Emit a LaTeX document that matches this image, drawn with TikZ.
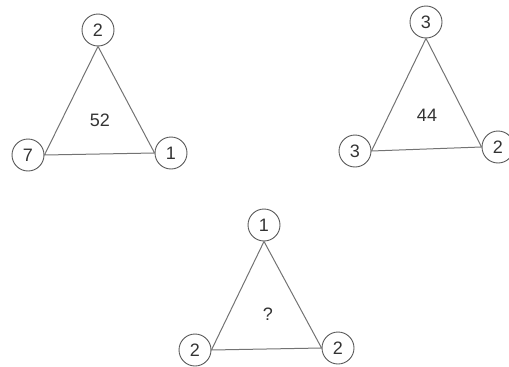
\documentclass[tikz,border=0pt]{standalone}
\usepackage{fontspec}
\setmainfont{Liberation Sans}
\begin{document}
\begin{tikzpicture}[x=1pt,y=-1pt,
  numc/.style={circle,draw=black!65,line width=0.9pt,minimum size=32pt,inner sep=0pt,font=\fontsize{18}{18}\selectfont,text=black!80},
  edge/.style={draw=black!55,line width=1pt},
  sumlabel/.style={font=\fontsize{18}{18}\selectfont,text=black!80}]
\useasboundingbox (0,0) rectangle (509,367);
% triangle 1
\node[numc] (t1) at (98,30) {2};
\node[numc] (l1) at (28,155) {7};
\node[numc] (r1) at (171,153) {1};
\draw[edge] (t1.south) -- (l1.east) -- (r1.west) -- cycle;
\node[sumlabel] (s1) at (100,120) {52};
% triangle 2
\node[numc] (t2) at (426,22) {3};
\node[numc] (l2) at (355,151) {3};
\node[numc] (r2) at (498,147) {2};
\draw[edge] (t2.south) -- (l2.east) -- (r2.west) -- cycle;
\node[sumlabel] (s2) at (427,115) {44};
% triangle 3
\node[numc] (t3) at (264,225) {1};
\node[numc] (l3) at (195,350) {2};
\node[numc] (r3) at (338,348) {2};
\draw[edge] (t3.south) -- (l3.east) -- (r3.west) -- cycle;
\node[sumlabel] (s3) at (268,314) {?};
\end{tikzpicture}
\end{document}
